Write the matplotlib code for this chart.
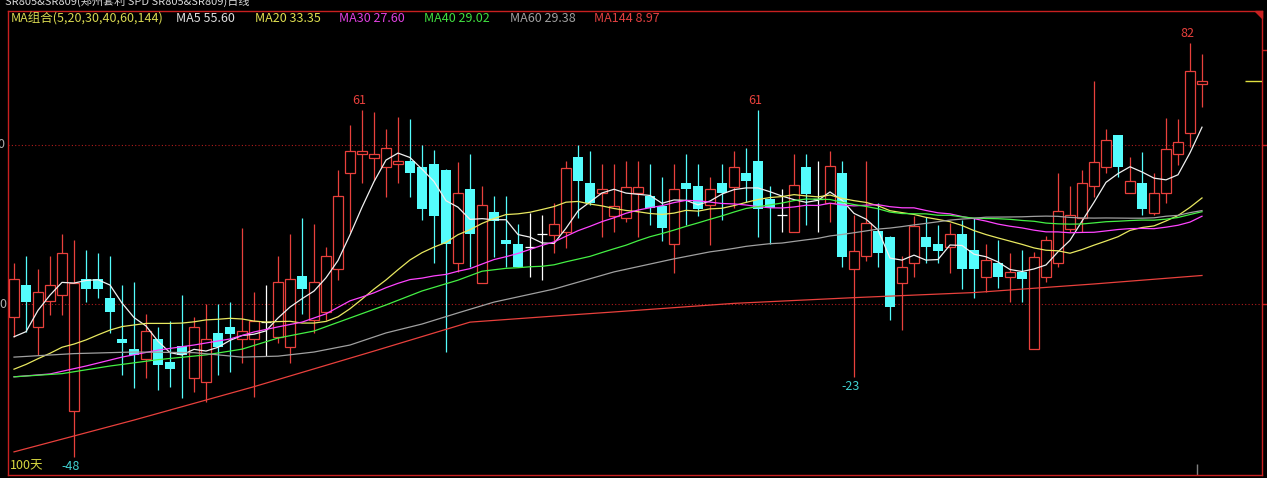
import matplotlib.pyplot as plt
import numpy as np
import pandas as pd
from matplotlib.patches import Polygon

plt.rcParams['font.family'] = ['Noto Sans CJK SC', 'DejaVu Sans']

# 日线 OHLC, 共 100 根
opens = [-4.2, 6.0, -7.3, 0.8, 2.7, -33.6, 7.8, 7.8, 1.8, -11.1,
         -14.2, -17.4, -11.1, -18.2, -13.2, -23.4, -24.4, -9.2, -7.3, -11.1,
         -11.1, -5.8, -10.3, -13.4, 8.8, -5.0, -2.4, 10.9, 41.1, 47.1,
         46.0, 43.0, 44.0, 45.0, 43.2, 44.0, 42.1, 12.8, 36.2, 6.7,
         28.9, 20.0, 18.9, 17.8, 22.0, 21.7, 22.7, 46.1, 38.0, 34.8,
         27.8, 26.9, 34.8, 34.0, 30.8, 18.8, 38.0, 37.1, 31.1, 38.0,
         36.9, 41.3, 45.0, 32.9, 28.0, 22.7, 43.0, 32.9, 31.7, 41.1,
         10.9, 15.1, 23.0, 21.0, 6.7, 12.8, 21.0, 18.9, 17.8, 21.9,
         17.0, 8.6, 12.8, 8.6, 10.0, -14.2, 8.6, 12.8, 23.6, 26.9,
         37.1, 43.0, 53.1, 34.8, 38.0, 28.7, 34.8, 47.2, 53.9, 69.1]
highs = [13.0, 15.1, 11.0, 15.1, 22.0, 20.1, 17.0, 16.1, 15.1, 6.0,
         7.0, -3.1, -7.1, -5.2, 2.8, -4.0, 0.0, 0.0, 0.7, 23.8,
         3.9, 6.0, 15.2, 22.0, 27.1, 25.2, 18.0, 42.1, 56.3, 61.0,
         60.5, 54.9, 58.9, 58.1, 50.0, 48.4, 42.5, 44.8, 47.2, 37.1,
         34.0, 34.0, 25.2, 28.5, 28.0, 31.9, 45.0, 50.0, 48.1, 44.0,
         44.0, 45.0, 45.0, 44.0, 39.8, 44.0, 47.2, 44.0, 39.8, 44.0,
         48.2, 49.0, 61.0, 37.1, 36.1, 47.2, 47.2, 45.0, 48.1, 45.0,
         28.0, 45.0, 31.7, 21.5, 15.1, 27.7, 27.3, 24.8, 25.6, 26.4,
         26.9, 18.9, 20.1, 16.1, 17.0, 16.4, 21.4, 41.1, 37.1, 42.1,
         70.1, 55.0, 53.1, 46.3, 47.9, 41.1, 58.4, 58.1, 82.0, 78.5]
lows = [-10.3, -8.7, -16.0, -3.5, -3.5, -48.0, 0.7, 1.8, -9.2, -22.3,
        -26.3, -23.4, -27.0, -26.0, -29.7, -27.6, -30.7, -22.3, -21.3, -18.5,
        -29.1, -16.4, -12.4, -18.6, -3.1, -9.0, -5.0, 7.5, 22.7, 38.0,
        39.0, 33.7, 38.0, 33.7, 26.4, 12.8, -15.0, 10.2, 11.7, 6.5,
        14.9, 11.7, 11.5, 8.6, 7.5, 15.9, 17.5, 26.9, 31.1, 21.2,
        22.7, 25.9, 21.2, 24.8, 19.9, 9.8, 24.8, 27.7, 18.6, 26.4,
        30.1, 32.2, 21.0, 18.9, 22.7, 22.7, 24.8, 22.7, 25.9, 11.7,
        -23.0, 13.6, 11.7, -5.0, -8.2, 8.6, 12.8, 12.8, 9.8, 4.6,
        1.8, 3.9, 4.9, 0.7, 0.7, -14.2, 7.0, 11.7, 22.7, 22.7,
        33.7, 41.1, 40.0, 34.8, 28.0, 28.0, 31.7, 43.7, 49.5, 62.0]
closes = [7.8, 0.7, 3.7, 5.9, 15.9, 6.7, 4.8, 4.8, -2.4, -12.4,
          -16.1, -8.4, -19.3, -20.3, -16.0, -7.3, -11.1, -13.4, -9.4, -8.4,
          -5.2, -5.8, 6.8, 7.8, 4.7, 6.8, 15.1, 34.0, 48.1, 48.1,
          47.1, 49.0, 45.0, 41.1, 29.8, 27.7, 18.8, 34.8, 21.9, 31.0,
          26.0, 18.8, 11.5, 17.8, 22.0, 25.1, 42.7, 38.8, 31.9, 36.1,
          30.9, 36.7, 36.9, 30.1, 23.8, 36.1, 36.1, 29.8, 36.1, 34.8,
          43.0, 38.8, 29.8, 30.1, 28.0, 37.4, 34.6, 32.9, 43.3, 14.9,
          16.8, 25.6, 15.9, -1.0, 11.7, 24.6, 17.8, 16.8, 21.9, 10.9,
          10.9, 13.8, 8.6, 10.0, 7.8, 14.9, 20.1, 29.3, 28.0, 38.0,
          44.5, 51.5, 43.0, 38.8, 29.8, 34.8, 48.8, 51.0, 73.3, 70.1]

# 窗口之前的均线段, 按K线序号给出
ma5_head = [-10.3, -8.7, -2.0, 2.8]
ma20_head = [-20.5, -19.0, -17.2, -15.5, -13.6, -12.6, -11.3, -9.7, -8.2, -7.1,
             -6.6, -6.1, -6.1, -6.1, -6.0, -5.6, -5.0, -4.8, -4.5]
ma30_idx = [0, 3, 6, 9, 12, 15, 18, 20, 22, 24, 26, 28]
ma30_head = [-22.9, -22.0, -19.5, -16.7, -14.5, -12.9, -11.0, -8.8, -7.2, -5.7, -3.1, 1.0]
ma40_idx = [0, 4, 8, 12, 16, 19, 22, 25, 28, 31, 34, 37]
ma40_head = [-22.9, -21.9, -19.5, -17.5, -16.0, -14.2, -10.7, -8.5, -4.4, -0.3, 4.1, 7.5]
ma60_idx = [0, 5, 10, 15, 19, 22, 25, 28, 31, 34, 37, 40, 45, 50, 55, 58]
ma60_head = [-16.7, -15.6, -15.1, -15.3, -16.7, -16.4, -15.1, -12.9, -9.1, -6.3,
             -2.8, 0.6, 4.7, 10.1, 14.2, 16.4]
ma144_idx = [0, 10, 20, 30, 38, 45, 50, 60, 70, 80, 90, 99]
ma144_vals = [-46.5, -36.5, -26.0, -14.8, -5.7, -3.8, -2.5, 0.2, 2.0, 3.6, 6.3, 8.97]

hi_marks = [29, 62, 98]
lo_marks = [5, 70]

title = "SR805&SR809(郑州套利 SPD SR805&SR809)日线"
grid_levels = [50, 0]
right_ticks = [80, 50, 0]

RED = '#e8403c'
CYAN = '#54fcfc'
BORDER = '#c82020'

W, H = 1267, 478
fig = plt.figure(figsize=(W / 100, H / 100), dpi=100, facecolor='black')
ax = fig.add_axes([8 / W, 3 / H, 1254 / W, 464 / H], facecolor='black')
ax.set_xlim(-0.5, 104.0)
ax.set_ylim((304 - 475) / 3.18, (304 - 11) / 3.18)

for s in ax.spines.values():
    s.set_color(BORDER)
    s.set_linewidth(1.0)
ax.set_xticks([])
ax.set_yticks(right_ticks)
ax.tick_params(axis='y', left=False, right=True, labelleft=False, labelright=False,
               direction='out', length=5, color=BORDER, width=1)

for lv in grid_levels:
    ax.axhline(lv, color='#b01c1c', lw=0.8, ls=(0, (1, 2)), zorder=1)

# K线
x = np.arange(len(closes))
o, h, l, c = (np.array(a) for a in (opens, highs, lows, closes))
up, dn, dj = c > o, c < o, c == o
ax.vlines(x[up], l[up], h[up], color=RED, lw=0.9, zorder=2)
ax.bar(x[up], (c - o)[up], 0.82, bottom=o[up], facecolor='black',
       edgecolor=RED, lw=0.9, zorder=3)
ax.vlines(x[dn], l[dn], h[dn], color=CYAN, lw=0.9, zorder=2)
ax.bar(x[dn], (o - c)[dn], 0.82, bottom=c[dn], color=CYAN, lw=0, zorder=3)
ax.vlines(x[dj], l[dj], h[dj], color='white', lw=0.9, zorder=2)
ax.hlines(c[dj], x[dj] - 0.41, x[dj] + 0.41, color='white', lw=0.9, zorder=3)

# 均线
cs = pd.Series(closes)


def ma_line(n, head_x, head_y):
    roll = cs.rolling(n).mean().to_numpy()[n - 1:]
    xs = np.concatenate([head_x, np.arange(n - 1, len(cs))])
    ys = np.concatenate([head_y, roll])
    return xs, ys


ma_cfg = [
    (5, list(range(4)), ma5_head, '#f0f0f0', '#e0e0e0'),
    (20, list(range(19)), ma20_head, '#e8e860', '#e0e050'),
    (30, ma30_idx, ma30_head, '#ff44ff', '#e040e0'),
    (40, ma40_idx, ma40_head, '#44f044', '#40e040'),
    (60, ma60_idx, ma60_head, '#a0a0a0', '#a0a0a0'),
]
legend = [("MA组合(5,20,30,40,60,144)", '#d8d850')]
for n, hx, hy, col, tcol in ma_cfg:
    xs, ys = ma_line(n, hx, hy)
    ax.plot(xs, ys, color=col, lw=0.9, zorder=4)
    legend.append((f"MA{n} {ys[-1]:.2f}", tcol))
ax.plot(ma144_idx, ma144_vals, color=RED, lw=0.9, zorder=4)
legend.append((f"MA144 {ma144_vals[-1]:.2f}", '#e04040'))

# 最高/最低标注
for i in hi_marks:
    ax.annotate(f"{highs[i]:.0f}", (i, highs[i]), xytext=(-3, 3), textcoords='offset pixels',
                ha='center', va='bottom', color=RED, fontsize=9)
for i in lo_marks:
    ax.annotate(f"{lows[i]:.0f}", (i, lows[i]), xytext=(-3, -3), textcoords='offset pixels',
                ha='center', va='top', color='#40d0d0', fontsize=9)

# 最新价位
ax.hlines(closes[-1], 102.6, 104.0, color='#e0e040', lw=1, zorder=4)
ax.vlines(98.6, (304 - 464) / 3.18, (304 - 475) / 3.18, color='#808080', lw=1)


def px_text(px, py, s, size=9, **kw):
    fig.text(px / W, 1 - py / H, s, fontsize=size, va='center', **kw)


px_text(5, 1, title, size=8, color='#d8d8d8')
lx = [11, 176, 255, 339, 424, 510, 594]
for xx, (s, col) in zip(lx, legend):
    px_text(xx, 19, s, color=col)
px_text(10, 466, "100天", color='#d8d840')
for lv in grid_levels:
    py = 304 - lv * 3.18
    px_text(6, py, f"{lv}", color='#b0b0b0', ha='right')

fig.add_artist(Polygon([[1255 / W, 1 - 11 / H], [1262 / W, 1 - 11 / H], [1262 / W, 1 - 18 / H]],
                       closed=True, color=BORDER, transform=fig.transFigure))

fig.savefig('out.png', dpi=100, facecolor='black')
